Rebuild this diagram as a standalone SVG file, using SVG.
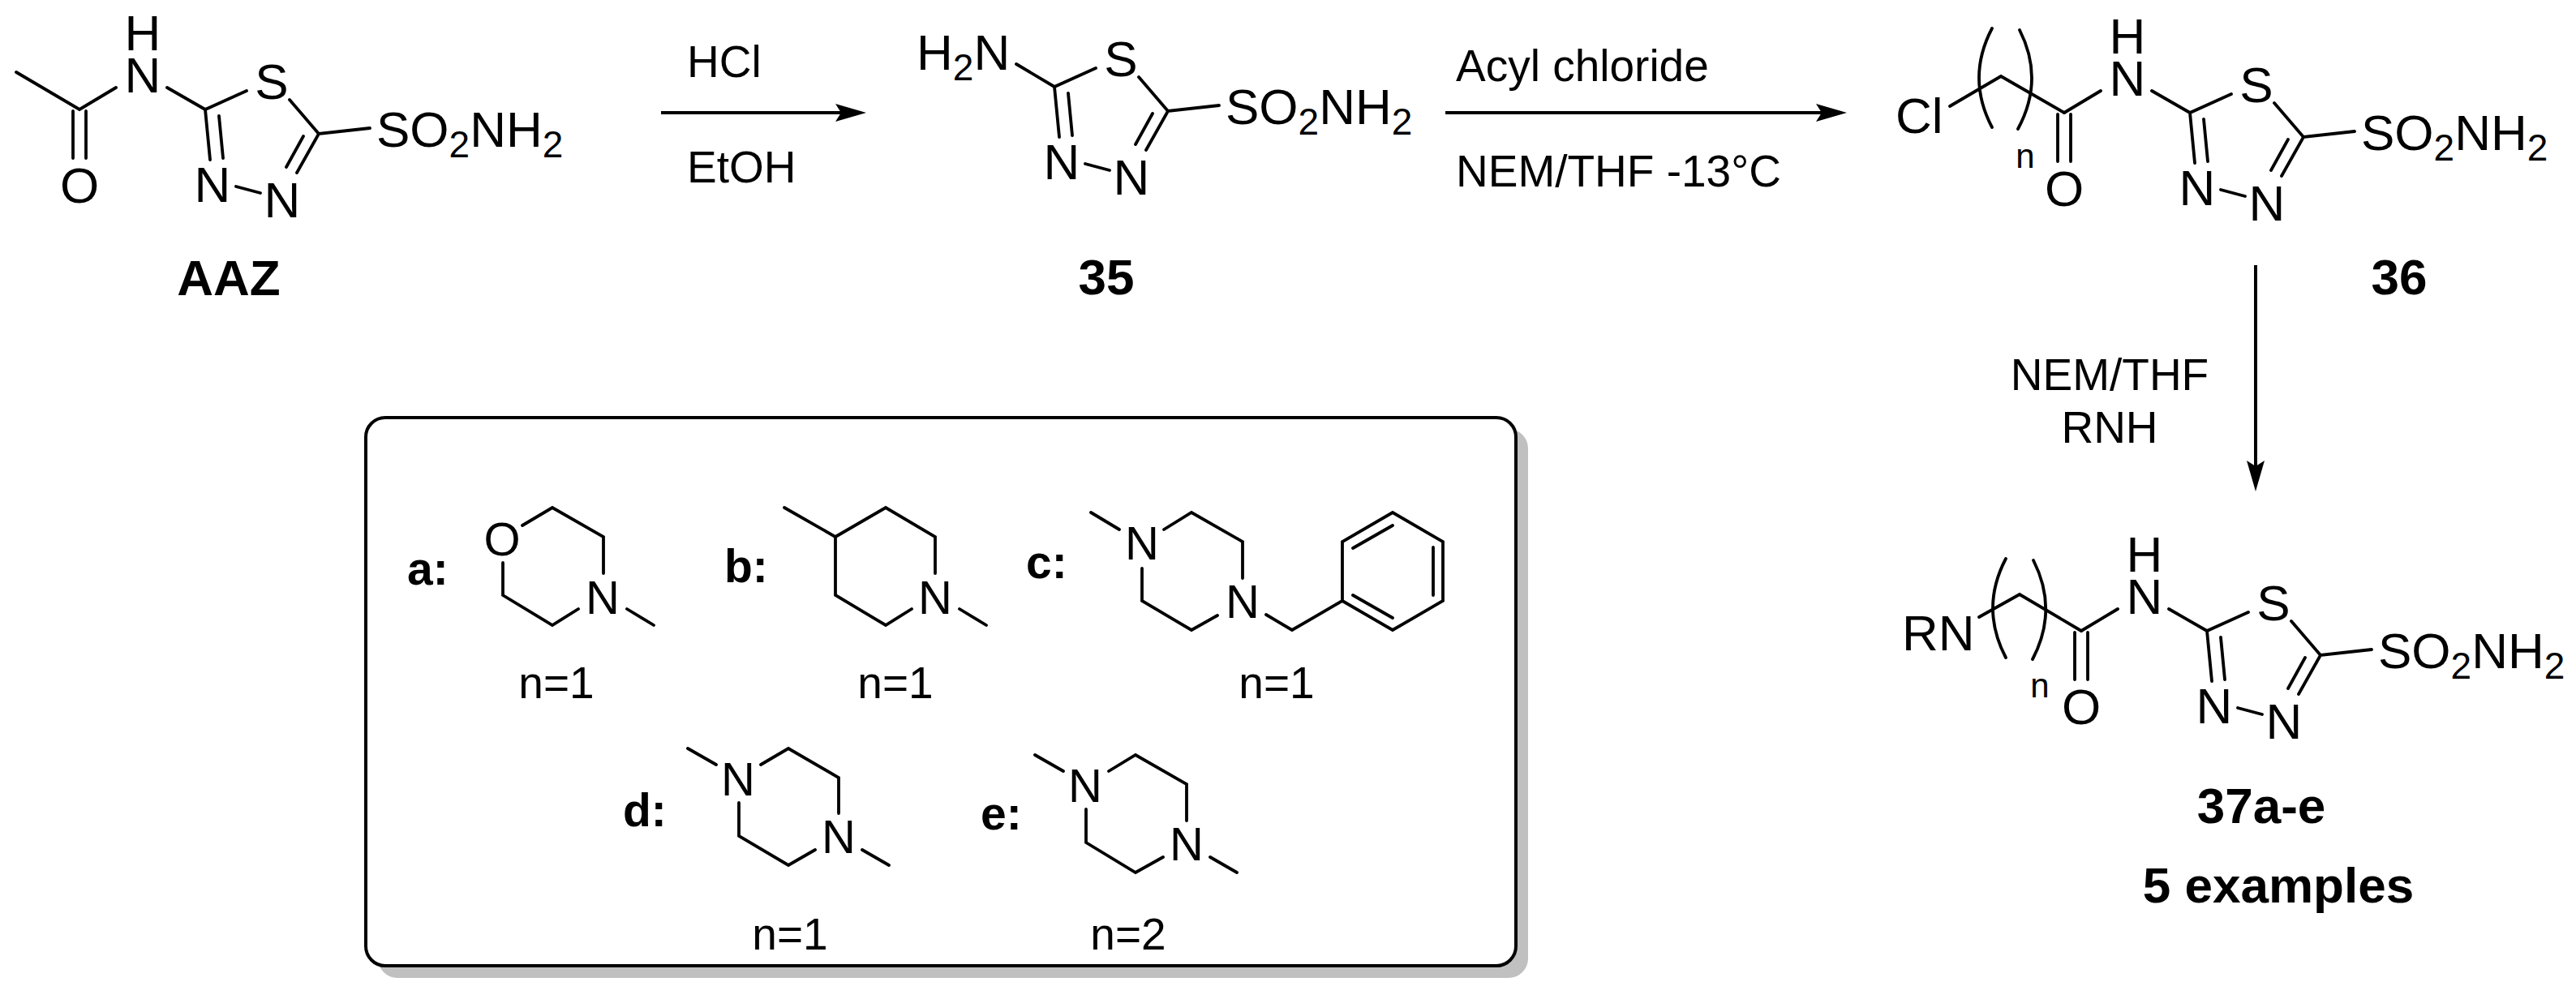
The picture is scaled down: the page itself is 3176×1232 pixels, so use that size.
<svg xmlns="http://www.w3.org/2000/svg" width="3176" height="1232" viewBox="0 0 3176 1232">
<style>
text{font-family:"Liberation Sans",Arial,sans-serif;font-size:62px;fill:#000}
.r{font-size:55px}
.t{font-size:58px}
.b{font-weight:bold}
.l{font-weight:bold;font-size:57px}
.m{text-anchor:middle}
.s{font-size:46px}
.n{font-size:42px;text-anchor:middle}
.bond{fill:none;stroke:#000;stroke-width:3.8;stroke-linecap:round;stroke-linejoin:miter}
.arrow{fill:none;stroke:#000;stroke-width:4;marker-end:url(#head)}
</style>
<defs>
<marker id="head" markerUnits="userSpaceOnUse" markerWidth="40" markerHeight="26" viewBox="0 0 40 26" refX="18" refY="13" orient="auto">
<path d="M0,2 L38,13 L0,24 L7,13 Z" fill="#000"/>
</marker>
</defs>
<rect width="3176" height="1232" fill="#fff"/>

<g id="connectors">
<line class="arrow" x1="815" y1="139" x2="1048" y2="139"/>
<line class="arrow" x1="1782" y1="139" x2="2257" y2="139"/>
<line class="arrow" x1="2781" y1="327" x2="2781" y2="586"/>
</g>

<g id="AAZ">
<path class="bond" d="M20,89 L98,135 L143,108 M90,137 V195 M106,137 V195 M206,108 L253,135 L304,112 M357,123 L393,165 L456,158 M253,135 L259,197 M270,143 L275,195 M291,230 L321,238 M393,165 L366,213 M374,168 L353,206"/>
<text class="m"><tspan x="176" y="62">H</tspan><tspan x="176" y="114">N</tspan></text>
<text x="98" y="250" class="m">O</text>
<text x="335" y="122" class="m">S</text>
<text x="262" y="249" class="m">N</text>
<text x="348" y="268" class="m">N</text>
<text x="464" y="181">SO<tspan class="s" dy="13">2</tspan><tspan dy="-13">NH</tspan><tspan class="s" dy="13">2</tspan></text>
<text x="282" y="364" class="b m">AAZ</text>
</g>

<g id="compound-35">
<g transform="translate(1047,-28)">
<path class="bond" d="M206,107 L253,135 L304,112 M357,123 L393,165 L456,158 M253,135 L259,197 M270,143 L275,195 M291,230 L321,238 M393,165 L366,213 M374,168 L353,206"/>
<text x="335" y="122" class="m">S</text>
<text x="262" y="249" class="m">N</text>
<text x="348" y="268" class="m">N</text>
<text x="464" y="181">SO<tspan class="s" dy="13">2</tspan><tspan dy="-13">NH</tspan><tspan class="s" dy="13">2</tspan></text>
</g>
<text x="1130" y="86">H<tspan class="s" dy="13">2</tspan><tspan dy="-13">N</tspan></text>
<text x="1364" y="363" class="b m">35</text>
</g>

<g id="compound-36">
<g transform="translate(2447,4)">
<path class="bond" d="M98,135 L143,108 M90,137 V195 M106,137 V195 M206,108 L253,135 L304,112 M357,123 L393,165 L456,158 M253,135 L259,197 M270,143 L275,195 M291,230 L321,238 M393,165 L366,213 M374,168 L353,206"/>
<text class="m"><tspan x="176" y="62">H</tspan><tspan x="176" y="114">N</tspan></text>
<text x="98" y="250" class="m">O</text>
<text x="335" y="122" class="m">S</text>
<text x="262" y="249" class="m">N</text>
<text x="348" y="268" class="m">N</text>
<text x="464" y="181">SO<tspan class="s" dy="13">2</tspan><tspan dy="-13">NH</tspan><tspan class="s" dy="13">2</tspan></text>
</g>
<path class="bond" d="M2545,139 L2467,94 L2404,131 M2456,35 Q2424,96 2456,157 M2490,37 Q2521,98 2488,159"/>
<text x="2337" y="164">Cl</text>
<text x="2497" y="207" class="n">n</text>
<text x="2958" y="363" class="b m">36</text>
</g>

<g id="compound-37">
<g transform="translate(2468,643)">
<path class="bond" d="M98,135 L143,108 M90,137 V195 M106,137 V195 M206,108 L253,135 L304,112 M357,123 L393,165 L456,158 M253,135 L259,197 M270,143 L275,195 M291,230 L321,238 M393,165 L366,213 M374,168 L353,206"/>
<text class="m"><tspan x="176" y="62">H</tspan><tspan x="176" y="114">N</tspan></text>
<text x="98" y="250" class="m">O</text>
<text x="335" y="122" class="m">S</text>
<text x="262" y="249" class="m">N</text>
<text x="348" y="268" class="m">N</text>
<text x="464" y="181">SO<tspan class="s" dy="13">2</tspan><tspan dy="-13">NH</tspan><tspan class="s" dy="13">2</tspan></text>
</g>
<path class="bond" d="M2566,778 L2490,733 L2440,761 M2473,689 Q2441,750 2473,811 M2507,691 Q2538,752 2506,813"/>
<text x="2345" y="802">RN</text>
<text x="2515" y="860" class="n">n</text>
<text x="2788" y="1015" class="b m">37a-e</text>
<text x="2809" y="1113" class="b m">5 examples</text>
</g>

<g id="reagents">
<text x="847" y="95" class="r">HCl</text>
<text x="847" y="225" class="r">EtOH</text>
<text x="1795" y="100" class="r">Acyl chloride</text>
<text x="1795" y="230" class="r">NEM/THF -13°C</text>
<text x="2601" y="481" class="r m">NEM/THF</text>
<text x="2601" y="546" class="r m">RNH</text>
</g>

<g id="legend-box">
<rect x="466" y="529" width="1418" height="677" rx="24" fill="#c0c0c0"/>
<rect x="451" y="515" width="1418" height="676" rx="24" fill="#fff" stroke="#000" stroke-width="4"/>
</g>

<g id="substituent-a">
<text x="502" y="721" class="l">a:</text>
<path class="bond" d="M644,648 L681,626 L744,662 V707 M713,751 L681,771 L620,734 V694 M773,751 L806,771"/>
<text x="619" y="685" class="t m">O</text>
<text x="743" y="757" class="t m">N</text>
<text x="686" y="861" class="r m">n=1</text>
</g>

<g id="substituent-b">
<text x="893" y="718" class="l">b:</text>
<path class="bond" d="M967,626 L1030,662 V734 L1092,771 L1124,751 M1030,662 L1092,626 L1153,662 V707 M1183,751 L1216,771"/>
<text x="1153" y="757" class="t m">N</text>
<text x="1104" y="861" class="r m">n=1</text>
</g>

<g id="substituent-c">
<text x="1265" y="713" class="l">c:</text>
<path class="bond" d="M1345,632 L1380,653 M1435,653 L1469,632 L1532,668 V713 M1501,759 L1469,777 L1408,741 V701 M1561,758 L1593,777 L1655,741 V668 L1717,632 L1779,668 V741 L1717,777 L1655,741 M1668,676 L1717,648 M1767,675 V734 M1668,734 L1717,762"/>
<text x="1408" y="690" class="t m">N</text>
<text x="1532" y="762" class="t m">N</text>
<text x="1574" y="861" class="r m">n=1</text>
</g>

<g id="substituent-d">
<text x="768" y="1019" class="l">d:</text>
<path class="bond" d="M848,923 L883,943 M938,943 L972,923 L1034,959 V1003 M1005,1048 L972,1067 L911,1031 V990 M1063,1048 L1096,1067"/>
<text x="910" y="981" class="t m">N</text>
<text x="1034" y="1052" class="t m">N</text>
<text x="974" y="1171" class="r m">n=1</text>
</g>

<g id="substituent-e">
<text x="1209" y="1023" class="l">e:</text>
<path class="bond" d="M1276,931 L1311,951 M1367,951 L1400,931 L1463,967 V1012 M1434,1057 L1400,1076 L1339,1039 V998 M1492,1057 L1525,1076"/>
<text x="1338" y="989" class="t m">N</text>
<text x="1463" y="1061" class="t m">N</text>
<text x="1391" y="1171" class="r m">n=2</text>
</g>
</svg>
